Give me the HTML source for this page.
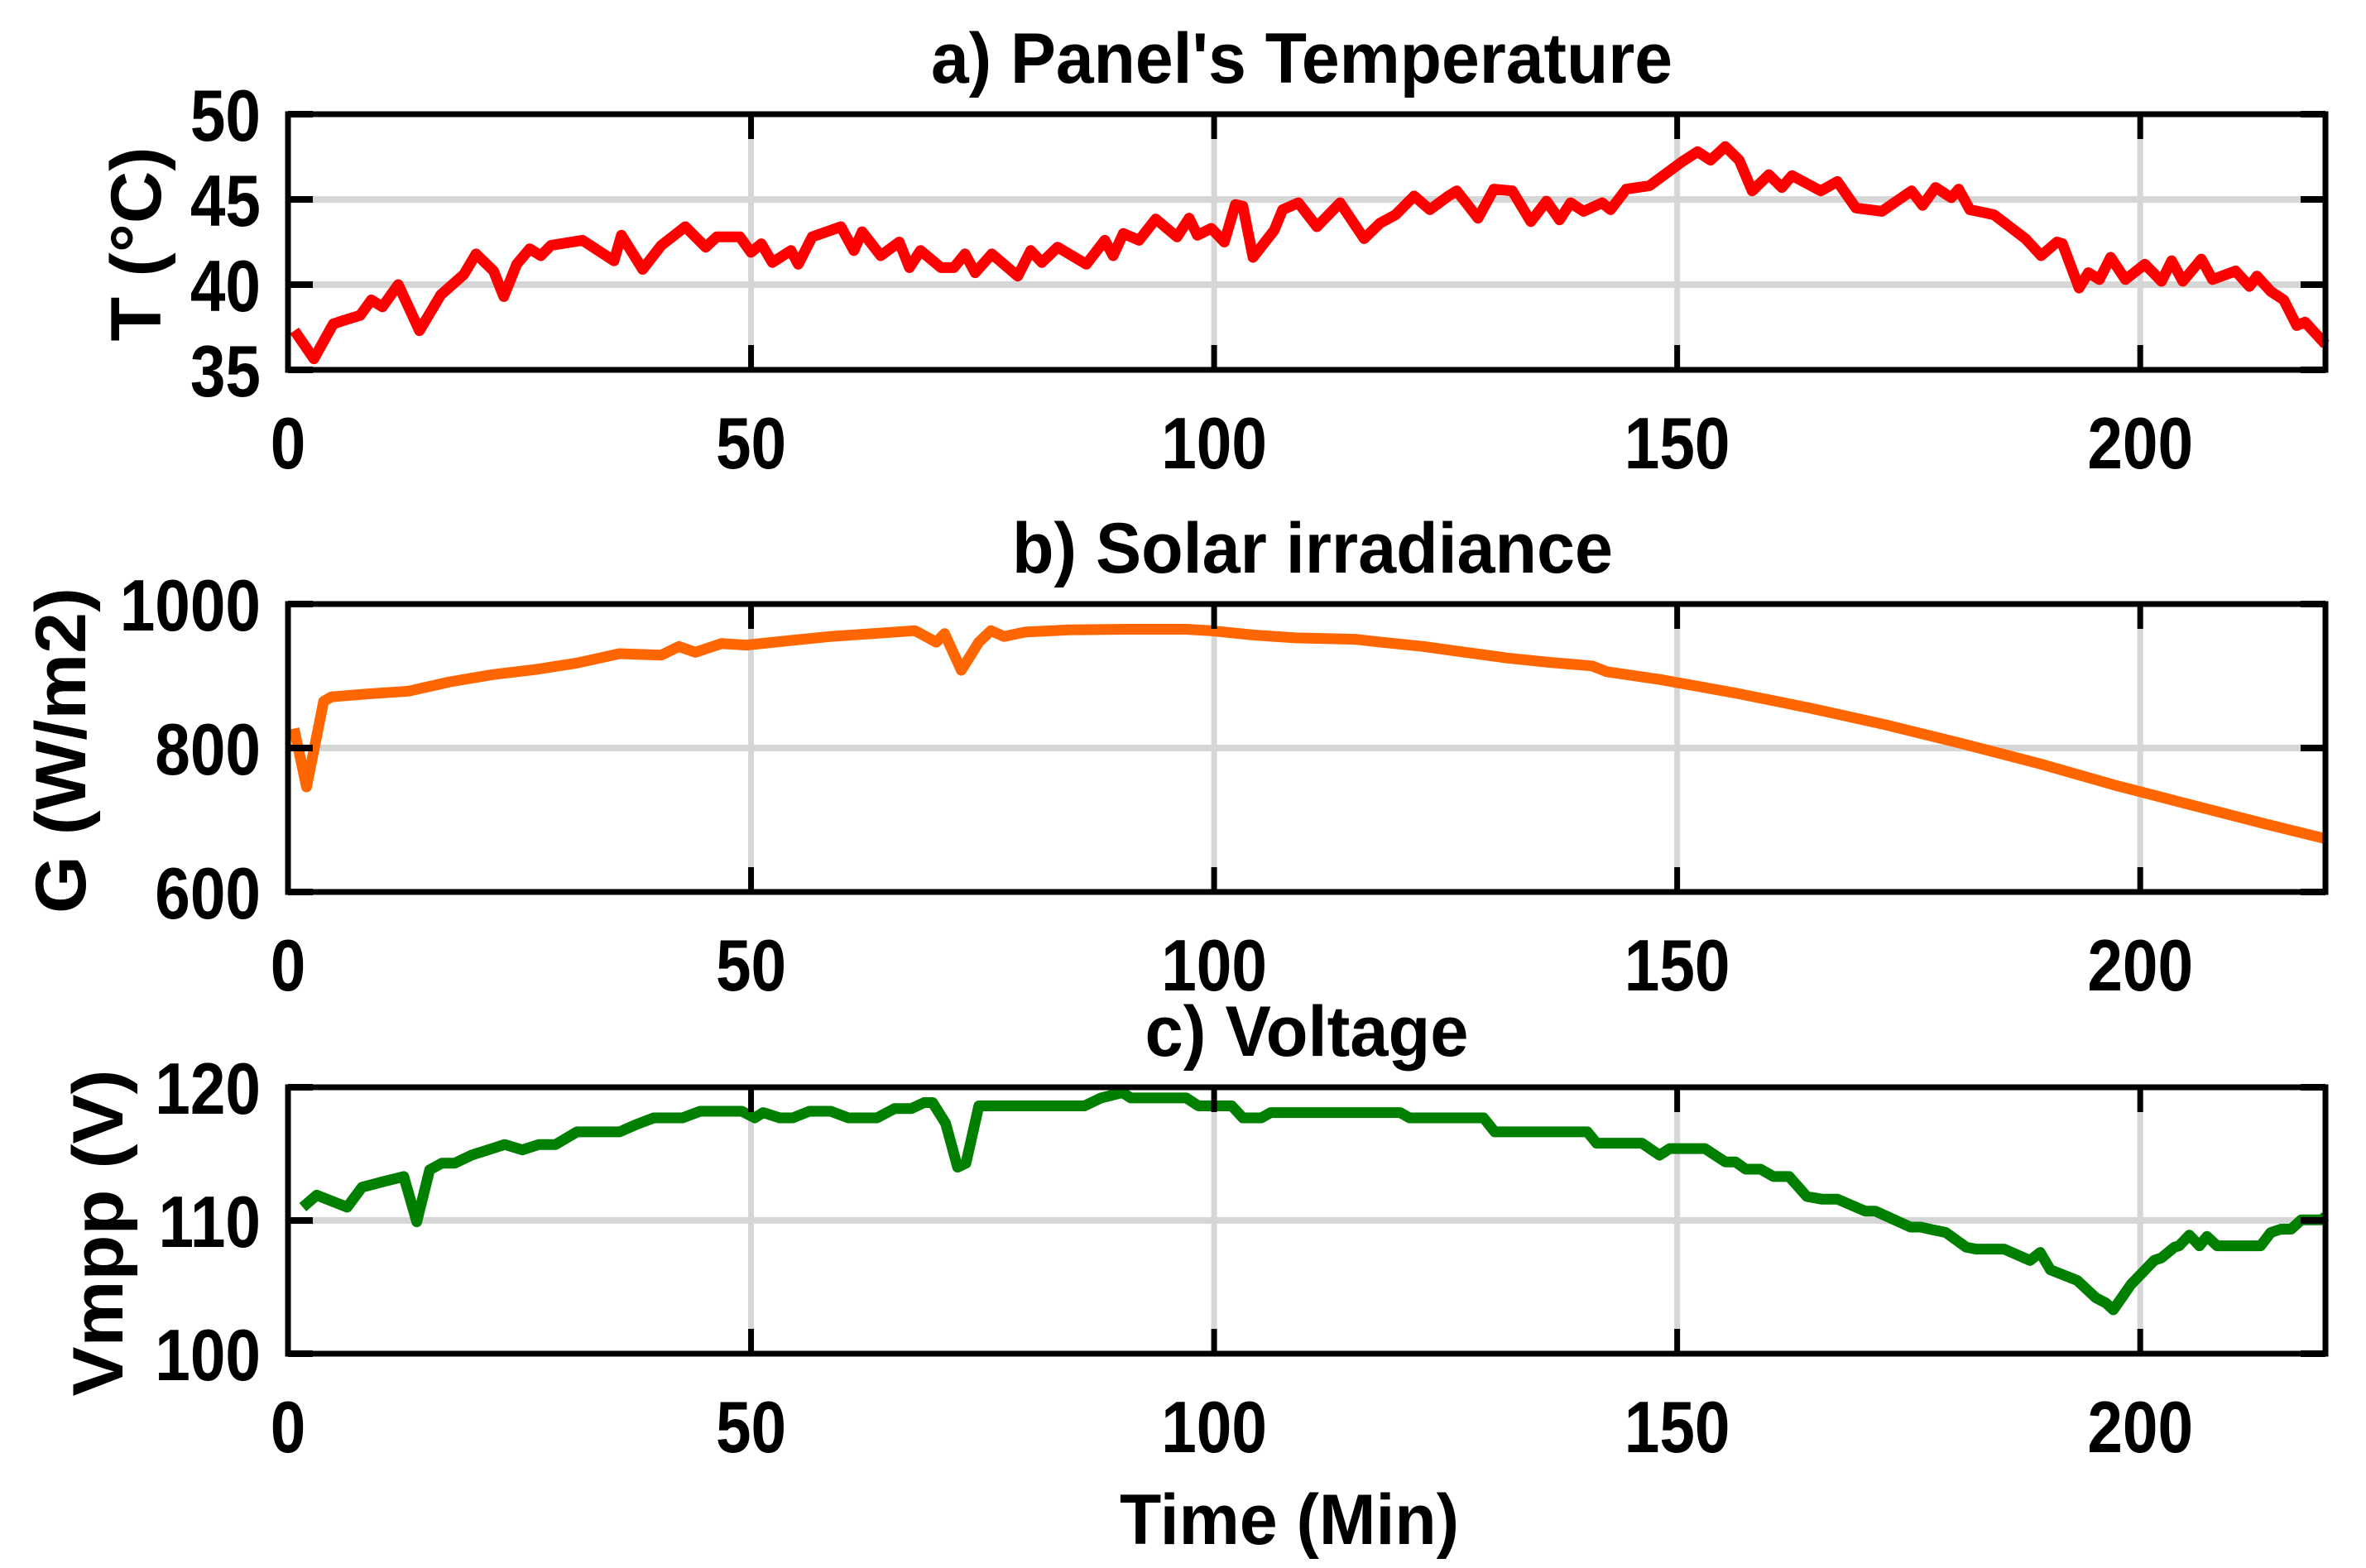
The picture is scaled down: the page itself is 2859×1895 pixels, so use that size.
<!DOCTYPE html>
<html><head><meta charset="utf-8"><style>
html,body{margin:0;padding:0;background:#fff;}
svg{display:block;}
text{font-family:"Liberation Sans",Arial,sans-serif;font-weight:bold;fill:#000;}
</style></head>
<body>
<svg id="chart" width="2859" height="1895" viewBox="0 0 2859 1895" xmlns="http://www.w3.org/2000/svg"></svg>
<script>
// ---- data ----
const xTicks = [0, 50, 100, 150, 200];
const tTime = [0.7,2.8,4.9,6.0,7.8,9.0,10.2,11.9,14.2,16.5,19.0,20.3,22.2,23.3,24.7,26.1,27.3,28.4,31.8,35.2,36.0,38.3,40.3,42.9,45.1,46.3,48.8,50.0,51.1,52.3,54.3,55.1,56.6,59.7,61.1,62.0,64.0,66.0,67.1,68.3,70.5,71.9,73.1,74.2,76.0,78.8,80.2,81.4,83.1,86.2,88.2,89.1,90.2,91.9,93.7,96.0,97.3,98.2,99.7,101.1,102.3,103.1,104.2,106.5,107.4,109.1,111.1,113.6,116.2,117.9,119.6,121.6,123.3,125.3,126.2,128.5,130.2,132.2,134.2,135.9,137.3,138.5,139.9,141.9,142.8,144.5,147.0,150.5,152.2,153.6,155.2,156.7,158.1,159.9,161.3,162.4,165.5,167.3,169.3,172.1,175.3,176.5,177.9,179.6,180.4,181.6,184.2,187.6,189.3,191.0,191.6,193.4,194.4,195.6,196.8,198.4,200.5,202.3,203.4,204.6,206.6,207.8,210.3,211.8,212.6,214.1,215.5,216.9,217.8,220.0];
const tempValues = [37.3,35.65,37.7,37.9,38.2,39.1,38.7,40.0,37.3,39.4,40.6,41.8,40.8,39.3,41.2,42.1,41.7,42.3,42.6,41.4,42.9,40.9,42.3,43.4,42.2,42.8,42.8,41.9,42.4,41.3,42.0,41.2,42.8,43.4,42.0,43.1,41.7,42.5,41.0,42.0,41.0,41.0,41.8,40.7,41.8,40.5,42.0,41.3,42.2,41.2,42.6,41.7,43.0,42.6,43.85,42.8,43.9,42.9,43.3,42.5,44.7,44.6,41.6,43.2,44.4,44.8,43.4,44.8,42.7,43.6,44.1,45.2,44.4,45.2,45.5,43.9,45.6,45.5,43.7,44.9,43.8,44.8,44.3,44.8,44.4,45.6,45.8,47.2,47.8,47.3,48.1,47.3,45.5,46.45,45.7,46.4,45.5,46.05,44.5,44.3,45.5,44.65,45.7,45.1,45.6,44.4,44.1,42.7,41.7,42.5,42.4,39.8,40.7,40.3,41.6,40.3,41.2,40.2,41.4,40.2,41.5,40.3,40.8,39.9,40.5,39.6,39.1,37.6,37.8,36.5];
const tempTicks = [35, 40, 45, 50];

const gTime = [0.65,2.0,3.85,4.7,8.4,13.0,17.5,22.1,26.7,31.2,35.8,40.3,42.2,44.0,46.8,49.5,54.0,58.6,63.2,67.7,70.0,70.9,72.7,74.6,75.9,77.3,79.6,84.2,90.5,97.0,99.6,104.2,108.8,115.2,118.0,122.6,127.1,131.7,136.2,140.8,142.4,148.2,156.4,164.5,172.6,180.8,188.9,197.1,205.2,213.4,220.0];
const irrValues = [827,746,865,871,875,879,892,902,909,918,931,929,941,933,945,943,949,955,959,963,947,959,908,947,963,955,961,964,965,965,963,957,953,951,947,941,933,925,919,914,906,895,876,855,832,806,779,749,722,695,674];
const irrTicks = [600, 800, 1000];

const vTime = [1.6,3.1,6.4,8.0,10.2,12.5,13.9,15.3,16.6,18.0,19.8,21.6,23.4,25.3,27.1,28.9,31.2,35.8,37.6,39.5,42.6,44.5,49.0,50.4,51.3,53.1,54.5,56.3,58.6,60.5,63.6,65.5,67.3,68.7,69.6,71.0,72.3,73.2,74.6,86.0,87.8,90.1,91.0,97.0,98.3,101.9,103.1,105.1,106.1,120.1,121.1,129.1,130.3,140.3,141.3,146.2,148.1,149.2,153.0,155.2,156.3,157.4,159.0,160.4,162.1,164.0,165.6,167.3,170.3,171.4,175.2,176.3,177.6,179.0,181.2,182.3,185.3,188.1,189.2,190.3,193.2,195.2,196.3,197.1,197.9,199.0,201.5,202.3,203.7,204.2,205.3,206.4,207.2,208.3,213.0,214.1,215.2,216.3,217.4,219.6,220.0];
const voltValues = [111.0,111.9,111.0,112.5,112.9,113.3,109.9,113.8,114.3,114.3,114.9,115.3,115.7,115.3,115.7,115.7,116.65,116.65,117.2,117.7,117.7,118.2,118.2,117.7,118.1,117.7,117.7,118.2,118.2,117.7,117.7,118.4,118.4,118.85,118.85,117.3,114.0,114.3,118.6,118.6,119.2,119.6,119.2,119.2,118.6,118.6,117.7,117.7,118.1,118.1,117.7,117.7,116.65,116.65,115.8,115.8,114.9,115.4,115.4,114.4,114.4,113.85,113.85,113.3,113.3,111.8,111.6,111.6,110.7,110.7,109.5,109.5,109.3,109.1,108.0,107.85,107.85,107.0,107.6,106.3,105.5,104.2,103.8,103.3,104.1,105.2,107.0,107.2,108.0,108.1,108.9,108.1,108.8,108.1,108.1,109.1,109.35,109.35,110.05,110.05,110.3];
const voltTicks = [100, 110, 120];

// ---- layout ----
const NS = "http://www.w3.org/2000/svg";
const svg = document.getElementById('chart');
const X0 = 348, X1 = 2810, XMAX = 220;
function xs(v){ return X0 + (v / XMAX) * (X1 - X0); }
function mk(tag, attrs, parent){
  const e = document.createElementNS(NS, tag);
  for (const k in attrs) e.setAttribute(k, attrs[k]);
  (parent || svg).appendChild(e);
  return e;
}

const panels = [
  {key:'temperature', top:138, bottom:447, min:35, max:50, ticks:tempTicks, xs:tTime, ys:tempValues, color:'#ff0000',
   title:"a) Panel's Temperature", titleW:896, titleX:1573, ylabel:'T (°C)', ylabW:235, ylabX:194, ylabY:295},
  {key:'irradiance', top:730, bottom:1078, min:600, max:1000, ticks:irrTicks, xs:gTime, ys:irrValues, color:'#ff6600',
   title:"b) Solar irradiance", titleW:726, titleX:1586, ylabel:'G (W/m2)', ylabW:394, ylabX:103, ylabY:907},
  {key:'voltage', top:1314, bottom:1636, min:100, max:120, ticks:voltTicks, xs:vTime, ys:voltValues, color:'#007f00',
   title:"c) Voltage", titleW:391, titleX:1579, ylabel:'Vmpp (V)', ylabW:395, ylabX:148, ylabY:1490}
];

panels.forEach(p => {
  const ys = v => p.bottom - (v - p.min) / (p.max - p.min) * (p.bottom - p.top);
  const g = mk('g', {});
  
  

  xTicks.forEach(t => {
    if (t === 0) return;
    const l = mk('line', {x1:xs(t), x2:xs(t), y1:p.top, y2:p.bottom, stroke:'#d6d6d6', 'stroke-width':7}, g);
    
    
  });
  p.ticks.forEach(t => {
    if (t === p.min || t === p.max) return;
    const l = mk('line', {x1:X0, x2:X1, y1:ys(t), y2:ys(t), stroke:'#d6d6d6', 'stroke-width':8}, g);
    
    
  });

  let d = '';
  p.xs.forEach((xv, i) => { d += (i ? 'L' : 'M') + xs(xv).toFixed(1) + ',' + ys(p.ys[i]).toFixed(1); });
  const path = mk('path', {d:d, fill:'none', stroke:p.color, 'stroke-width':13, 'stroke-linejoin':'round', 'stroke-linecap':'butt'}, g);
  
  

  xTicks.forEach(t => {
    const a = mk('line', {x1:xs(t), x2:xs(t), y1:p.bottom, y2:p.bottom-30, stroke:'#000', 'stroke-width':7}, g);
    
    
    const b = mk('line', {x1:xs(t), x2:xs(t), y1:p.top, y2:p.top+30, stroke:'#000', 'stroke-width':7}, g);
    
    
    const tx = mk('text', {x:0, y:0, 'font-size':88, 'text-anchor':'middle', transform:'translate(' + xs(t) + ',' + (p.bottom + 119) + ') scale(0.87,1)'}, g);
    tx.textContent = t;
    
    
  });
  p.ticks.forEach(t => {
    const a = mk('line', {x1:X0, x2:X0+30, y1:ys(t), y2:ys(t), stroke:'#000', 'stroke-width':8}, g);
    
    
    const b = mk('line', {x1:X1, x2:X1-30, y1:ys(t), y2:ys(t), stroke:'#000', 'stroke-width':8}, g);
    
    
    const tx = mk('text', {x:0, y:0, 'font-size':88, 'text-anchor':'end', transform:'translate(315,' + (ys(t) + 32) + ') scale(0.87,1)'}, g);
    tx.textContent = t;
    
    
  });

  const fr = mk('rect', {x:X0, y:p.top, width:X1-X0, height:p.bottom-p.top, fill:'none', stroke:'#000', 'stroke-width':7}, g);
  
  

  const ti = mk('text', {x:p.titleX, y:p.top-38, 'font-size':86, 'text-anchor':'middle', textLength:p.titleW, lengthAdjust:'spacingAndGlyphs'}, g);
  ti.textContent = p.title;
  
  

  const yl = mk('text', {x:0, y:0, 'font-size':86, 'text-anchor':'middle', textLength:p.ylabW, lengthAdjust:'spacingAndGlyphs', transform:'translate(' + p.ylabX + ',' + p.ylabY + ') rotate(-90)'}, g);
  yl.textContent = p.ylabel;
  
  
});

const xl = mk('text', {x:1558, y:1866, 'font-size':86, 'text-anchor':'middle', textLength:410, lengthAdjust:'spacingAndGlyphs'});
xl.textContent = 'Time (Min)';


</script>
</body></html>
